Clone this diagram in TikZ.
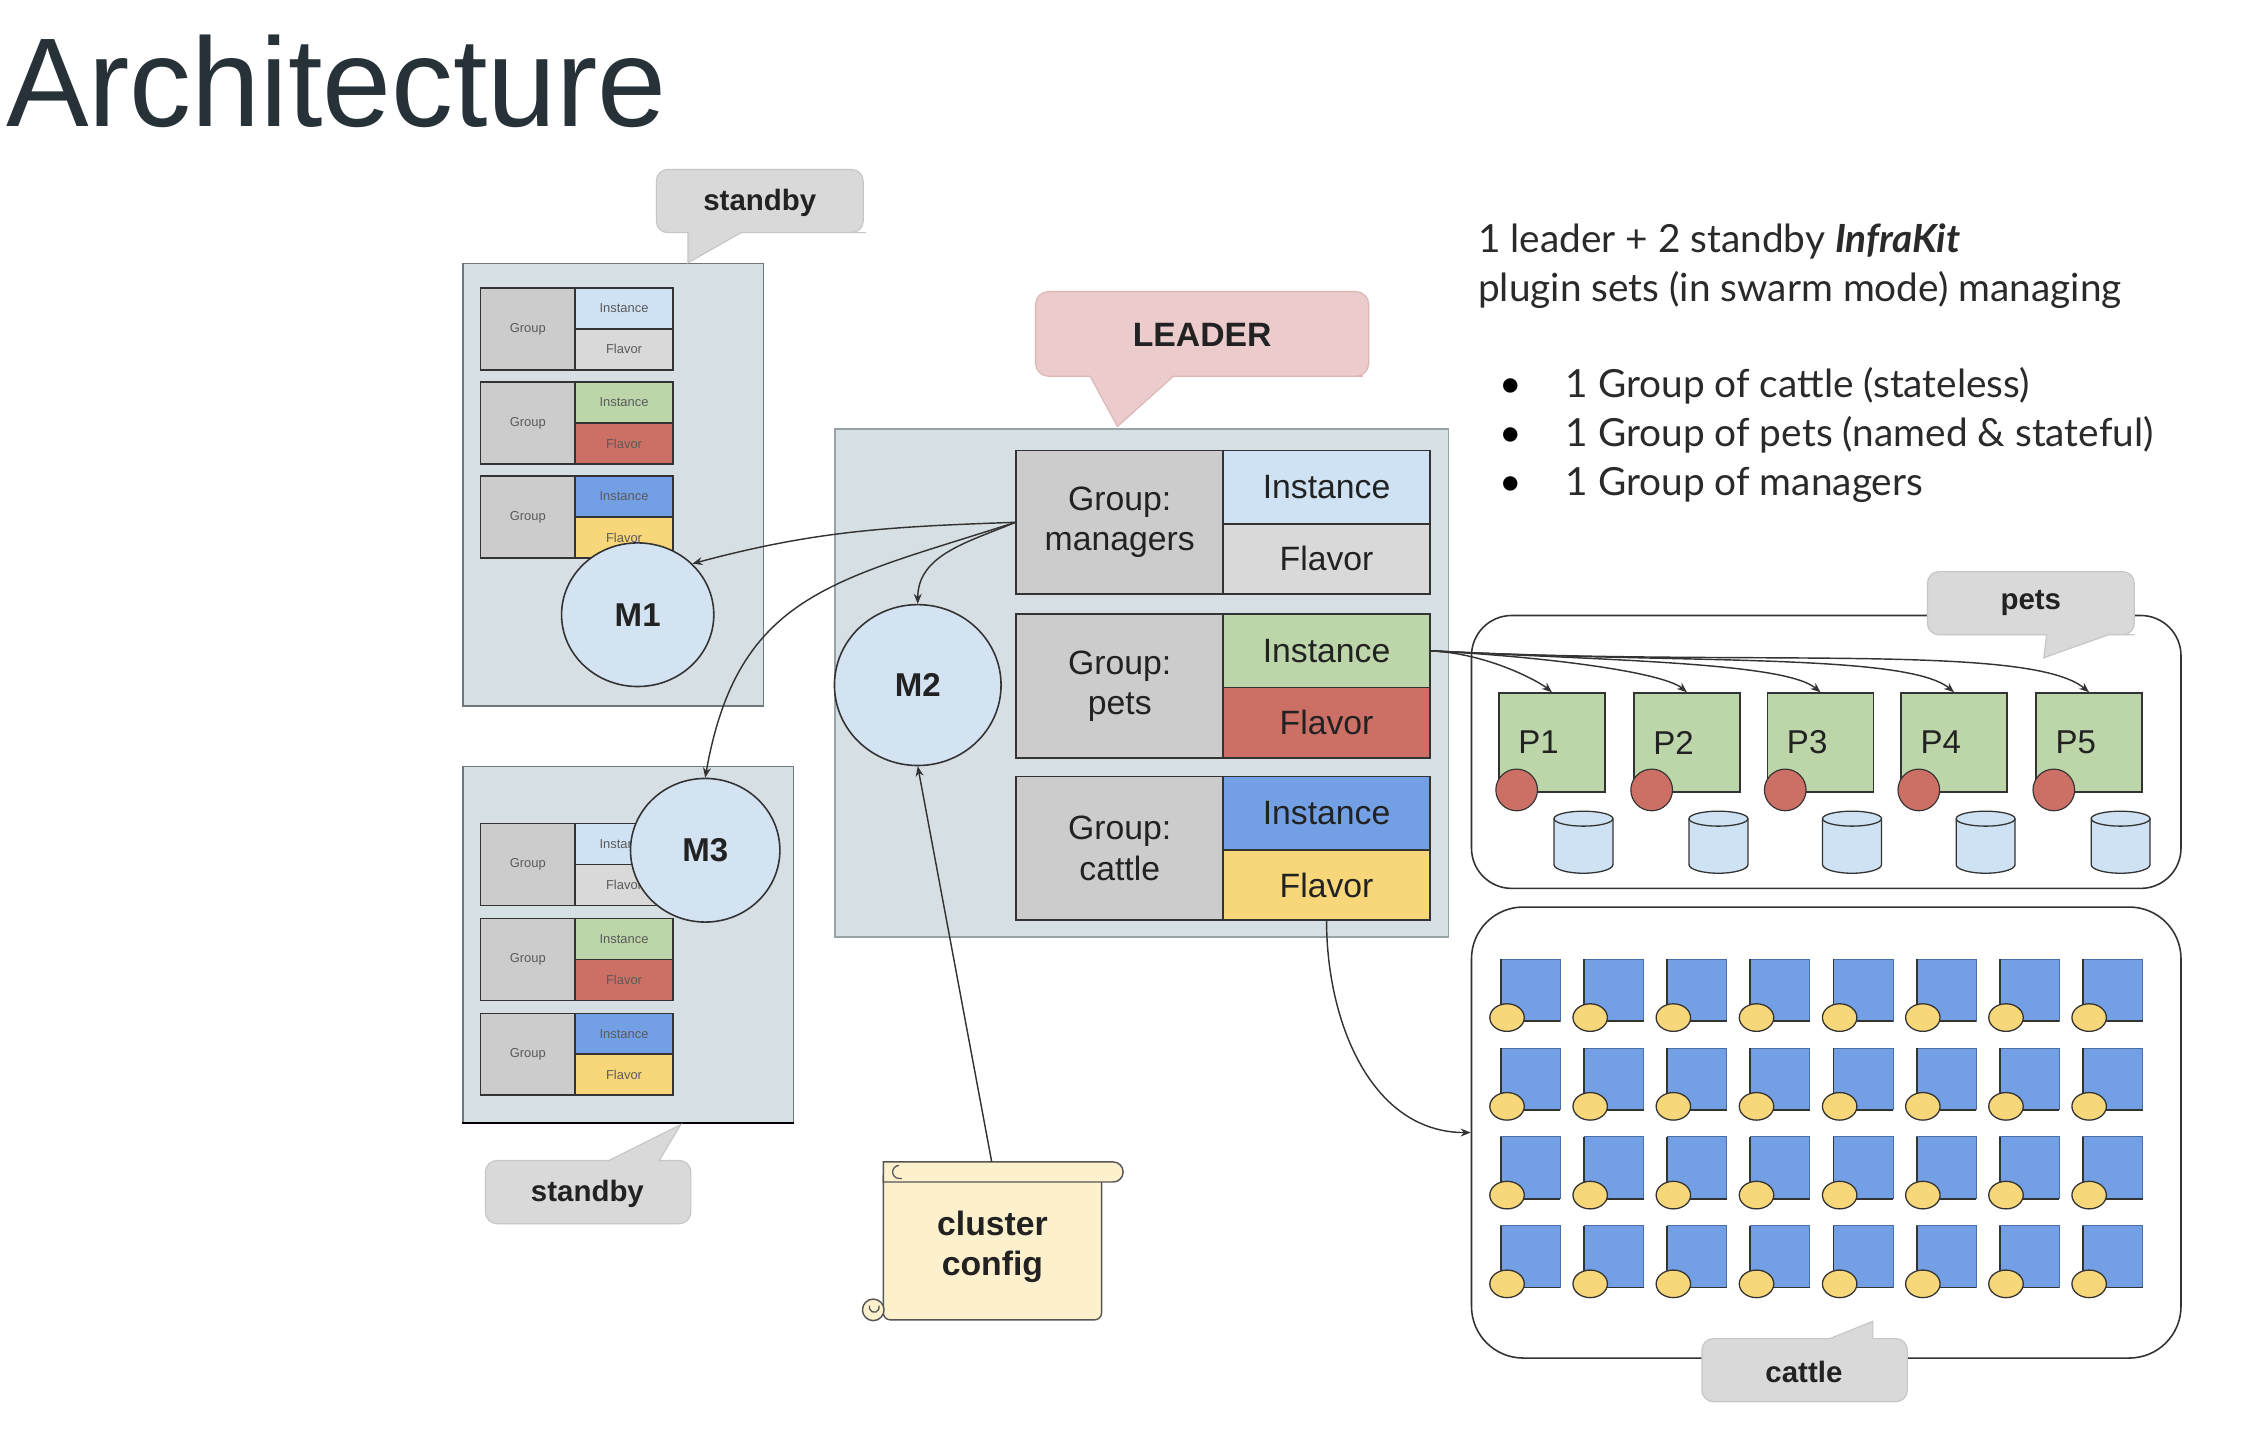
\documentclass[tikz,border=0pt]{standalone}
\usepackage{fontspec}
\usepackage{graphicx}
\setmainfont{Liberation Sans}
\newfontfamily\latofont{Lato}
\usetikzlibrary{shapes.geometric,arrows.meta}
\definecolor{boxbg}{HTML}{D6DFE3}
\definecolor{boxln}{HTML}{6F777A}
\definecolor{ldln}{HTML}{98A3A8}
\definecolor{grpC}{HTML}{CCCCCC}
\definecolor{instA}{HTML}{CFE2F3}
\definecolor{flavA}{HTML}{D9D9D9}
\definecolor{instB}{HTML}{BCD6AA}
\definecolor{flavB}{HTML}{CC7066}
\definecolor{instC}{HTML}{73A0E4}
\definecolor{flavC}{HTML}{F7D77A}
\definecolor{mC}{HTML}{D3E3F2}
\definecolor{calG}{HTML}{D9D9D9}
\definecolor{calGl}{HTML}{C6C6C6}
\definecolor{calP}{HTML}{EBCBCB}
\definecolor{calPl}{HTML}{DDB6B6}
\definecolor{scrollC}{HTML}{FDF1CD}
\definecolor{scrln}{HTML}{555555}
\definecolor{lnC}{HTML}{333333}
\definecolor{txtC}{HTML}{222222}
\definecolor{stxt}{HTML}{5A5A5A}
\definecolor{titleC}{HTML}{263238}
\definecolor{rtxt}{HTML}{2A2A2A}
\definecolor{cattlln}{HTML}{4A6FA8}
\begin{document}
\begin{tikzpicture}[x=1pt,y=1pt,
  arr/.style={draw=lnC, line width=1pt, -{Stealth[length=7pt,width=5.5pt]}},
  sbbox/.style={draw=boxln, line width=1.1pt, fill=boxbg, anchor=north west, inner sep=0pt},
  ldbox/.style={draw=ldln, line width=1.1pt, fill=boxbg, anchor=north west, inner sep=0pt},
  cell/.style={draw=lnC, line width=1.3pt, anchor=north west, inner sep=0pt, align=center, text=txtC, font=\fontsize{23.5}{28}\selectfont},
  scell/.style={draw=lnC, line width=1pt, anchor=north west, inner sep=0pt, align=center, text=stxt, font=\fontsize{9}{9}\selectfont},
  mcirc/.style={ellipse, draw=lnC, line width=1.1pt, fill=mC, inner sep=0pt, font=\bfseries\fontsize{23}{23}\selectfont, text=txtC},
  callG/.style={fill=calG, draw=calGl, line width=0.8pt},
  callP/.style={fill=calP, draw=calPl, line width=0.8pt},
  calltext/.style={font=\bfseries\fontsize{20.5}{20.5}\selectfont, text=txtC, inner sep=0pt},
  pbox/.style={draw=lnC, line width=1.1pt, fill=instB, anchor=north west, inner sep=0pt, minimum width=74pt, minimum height=69pt},
  ptext/.style={font=\fontsize{23}{23}\selectfont, text=txtC, inner sep=0pt, anchor=west},
  pdot/.style={circle, draw=lnC, line width=0.8pt, fill=flavB, minimum size=29pt, inner sep=0pt},
  grpbox/.style={draw=lnC, line width=1.1pt, rounded corners=28pt, fill=white, anchor=north west, inner sep=0pt},
  rtext/.style={font=\latofont\fontsize{27}{27}\selectfont, text=rtxt, anchor=base west, inner sep=0pt},
  bul/.style={font=\latofont\fontsize{27}{27}\selectfont, text=black, anchor=base, inner sep=0pt},
  cyl/.style={fill=instA, draw=lnC, line width=0.9pt}
]
% canvas
\fill[white] (0,0) rectangle (1568,-1001.3);
\useasboundingbox (0,0) rectangle (1568,-1001.3);

% title
\node[anchor=base west, inner sep=0pt, text=titleC, font=\fontsize{88}{88}\selectfont] (title) at (4,-88) {\scalebox{0.98}[1]{Architecture}};

% ---------- standby box 1 ----------
\node[sbbox, minimum width=209pt, minimum height=308pt] (sb1box) at (322,-183) {};
\foreach \t/\ic/\fc [count=\k] in {200/instA/flavA, 265.5/instB/flavB, 331/instC/flavC}{
  \node[scell, fill=grpC, minimum width=66pt, minimum height=57pt] (sa\k g) at (334,-\t) {Group};
  \node[scell, fill=\ic, minimum width=68pt, minimum height=28.5pt] (sa\k i) at (400,-\t) {Instance};
  \node[scell, fill=\fc, minimum width=68pt, minimum height=28.5pt] (sa\k f) at (400,-\t-28.5) {Flavor};
}
\node[mcirc, minimum width=106pt, minimum height=100pt] (m1) at (444,-428) {M1};

% ---------- standby box 2 ----------
\node[sbbox, minimum width=230pt, minimum height=248pt] (sb2box) at (322,-533) {};
\draw[black, line width=1.6pt] (sb2box.south west) -- (sb2box.south east);
\foreach \t/\ic/\fc [count=\k] in {573/instA/flavA, 639/instB/flavB, 705/instC/flavC}{
  \node[scell, fill=grpC, minimum width=66pt, minimum height=57pt] (sb\k g) at (334,-\t) {Group};
  \node[scell, fill=\ic, minimum width=68pt, minimum height=28.5pt] (sb\k i) at (400,-\t) {Instance};
  \node[scell, fill=\fc, minimum width=68pt, minimum height=28.5pt] (sb\k f) at (400,-\t-28.5) {Flavor};
}
\node[mcirc, minimum width=104pt, minimum height=100pt] (m3) at (491,-592) {M3};

% ---------- standby callouts ----------
\path[callG] (529,-118) [rounded corners=8pt] -- (601,-118) -- (601,-162) -- (595,-162) [sharp corners] -- (516,-162) -- (479,-183) -- (479,-162) -- (470,-162) [rounded corners=8pt] -- (457,-162) -- (457,-118) -- cycle;
\node[calltext] (sb1lbl) at (529,-141) {standby};
\path[callG] (338,-830) [rounded corners=8pt] -- (338,-808) -- (415,-808) [sharp corners] -- (424,-808) -- (474,-783) -- (459,-808) -- (468,-808) [rounded corners=8pt] -- (481,-808) -- (481,-852) -- (338,-852) -- cycle;
\node[calltext] (sb2lbl) at (409,-831) {standby};

% ---------- leader ----------
\path[callP] (837,-203) [rounded corners=9pt] -- (953,-203) -- (953,-262) -- (940,-262) [sharp corners] -- (817,-262) -- (778,-297) -- (759,-262) -- (745,-262) [rounded corners=9pt] -- (721,-262) -- (721,-203) -- cycle;
\node[calltext, font=\bfseries\fontsize{23.5}{23.5}\selectfont] (ldrlbl) at (837,-233) {LEADER};

\node[ldbox, minimum width=427pt, minimum height=354pt] (ldbox) at (581,-298) {};
\node[cell, fill=grpC, minimum width=144pt, minimum height=100pt] (lmg) at (707,-313) {Group:\\managers};
\node[cell, fill=instA, minimum width=144pt, minimum height=51pt] (lmi) at (851,-313) {Instance};
\node[cell, fill=flavA, minimum width=144pt, minimum height=49pt] (lmf) at (851,-364) {Flavor};
\node[cell, fill=grpC, minimum width=144pt, minimum height=100pt] (lpg) at (707,-427) {Group:\\pets};
\node[cell, fill=instB, minimum width=144pt, minimum height=51pt] (lpi) at (851,-427) {Instance};
\node[cell, fill=flavB, minimum width=144pt, minimum height=49pt] (lpf) at (851,-478) {Flavor};
\node[cell, fill=grpC, minimum width=144pt, minimum height=100pt] (lcg) at (707,-540) {Group:\\cattle};
\node[cell, fill=instC, minimum width=144pt, minimum height=51pt] (lci) at (851,-540) {Instance};
\node[cell, fill=flavC, minimum width=144pt, minimum height=49pt] (lcf) at (851,-591) {Flavor};
\node[mcirc, minimum width=116pt, minimum height=112pt] (m2) at (639,-477) {M2};

% ---------- right text ----------
\node[rtext] (t1) at (1029,-176) {1 leader + 2 standby \textbf{\textit{InfraKit}}};
\node[rtext] (t2) at (1029,-210) {plugin sets (in swarm mode) managing};
\node[bul] (b1) at (1052,-277) {•};
\node[bul] (b2) at (1052,-311) {•};
\node[bul] (b3) at (1052,-345) {•};
\node[rtext] (l1) at (1090,-277) {1 Group of cattle (stateless)};
\node[rtext] (l2) at (1090,-311) {1 Group of pets (named \& stateful)};
\node[rtext] (l3) at (1090,-345) {1 Group of managers};

% ---------- pets ----------
\node[grpbox, minimum width=494pt, minimum height=190pt] (petsbox) at (1024,-428) {};
\foreach \k/\L in {1/1043,2/1137,3/1230,4/1323,5/1417}{
  \node[pbox] (p\k) at (\L,-482) {};
  \node[ptext] (p\k t) at (\L+14,-517) {P\k};
  \node[pdot] (p\k d) at (\L+13,-550) {};
  \fill[instA] (\L+39,-570) -- (\L+39,-602) arc[start angle=180,end angle=360,x radius=20.5,y radius=6] -- (\L+80,-570) -- cycle;
  \draw[lnC, line width=0.9pt] (\L+39,-570) -- (\L+39,-602) arc[start angle=180,end angle=360,x radius=20.5,y radius=6] -- (\L+80,-570);
  \filldraw[cyl] (\L+59.5,-570) ellipse[x radius=20.5,y radius=5.2];
}
\path[callG] (1414,-398) [rounded corners=8pt] -- (1486,-398) -- (1486,-442) -- (1478,-442) [sharp corners] -- (1468,-442) -- (1423,-458) -- (1425,-442) -- (1415,-442) [rounded corners=8pt] -- (1342,-442) -- (1342,-398) -- cycle;
\node[calltext] (petslbl) at (1414,-420) {pets};

% ---------- cattle ----------
\node[grpbox, rounded corners=36pt, minimum width=494pt, minimum height=314pt] (cattlebox) at (1024,-631) {};
\foreach \i in {0,...,7}{
  \foreach \j in {0,...,3}{
    \pgfmathsetmacro{\L}{1045+57.9*\i}
    \pgfmathsetmacro{\T}{668+61.8*\j}
    \filldraw[fill=instC, draw=cattlln, line width=0.7pt] (\L,-\T) rectangle ++(41.5,-43);
    \draw[lnC, line width=1.2pt] (\L,-\T) -- ++(0,-43) -- ++(41.5,0);
    \filldraw[fill=flavC, draw=lnC, line width=0.9pt] (\L+4.3,-\T-40.5) ellipse[x radius=12, y radius=9.6];
  }
}
\path[callG] (1185,-954) [rounded corners=8pt] -- (1185,-932) -- (1265,-932) [sharp corners] -- (1274,-932) -- (1304,-920) -- (1304,-932) -- (1312,-932) [rounded corners=8pt] -- (1328,-932) -- (1328,-976) -- (1185,-976) -- cycle;
\node[calltext] (cattlelbl) at (1256,-955) {cattle};

% ---------- cluster config scroll ----------
\filldraw[fill=scrollC, draw=scrln, line width=1pt, rounded corners=5pt] (615,-814) rectangle (767,-919);
\filldraw[fill=scrollC, draw=scrln, line width=1pt] (608,-912) circle[radius=7.5];
\draw[scrln, line width=0.9pt] (612,-909) arc[start angle=20,end angle=-200,radius=3.5];
\filldraw[fill=scrollC, draw=scrln, line width=1pt] (615,-809) -- (775,-809) arc[start angle=90,end angle=-90,radius=7] -- (615,-823) -- cycle;
\draw[scrln, line width=0.9pt] (626,-811.5) arc[start angle=90,end angle=270,radius=4.5] -- (628,-820.5);
\node[font=\bfseries\fontsize{23.5}{28}\selectfont, align=center, text=txtC, inner sep=0pt] (cfg) at (691,-868) {cluster\\config};
\coordinate (cfgtop) at (690.5,-809);

% ---------- connectors ----------
\draw[arr] (lmg.west) to[out=182,in=15] (m1.43);
\draw[arr] (lmg.west) to[out=203,in=90] (m2.north);
\draw[arr] (lmg.west) to[out=198,in=80,looseness=1.2] (m3.north);
\draw[arr] (cfgtop) -- (m2.south);
\foreach \k in {1,...,5}{
  \draw[arr] (lpi.east) to[out=-3,in=140,out looseness=1.2,in looseness=0.3] (p\k.north);
}
\draw[arr] (lcf.south) to[out=-90,in=180] (cattlebox.west);
\end{tikzpicture}
\end{document}
